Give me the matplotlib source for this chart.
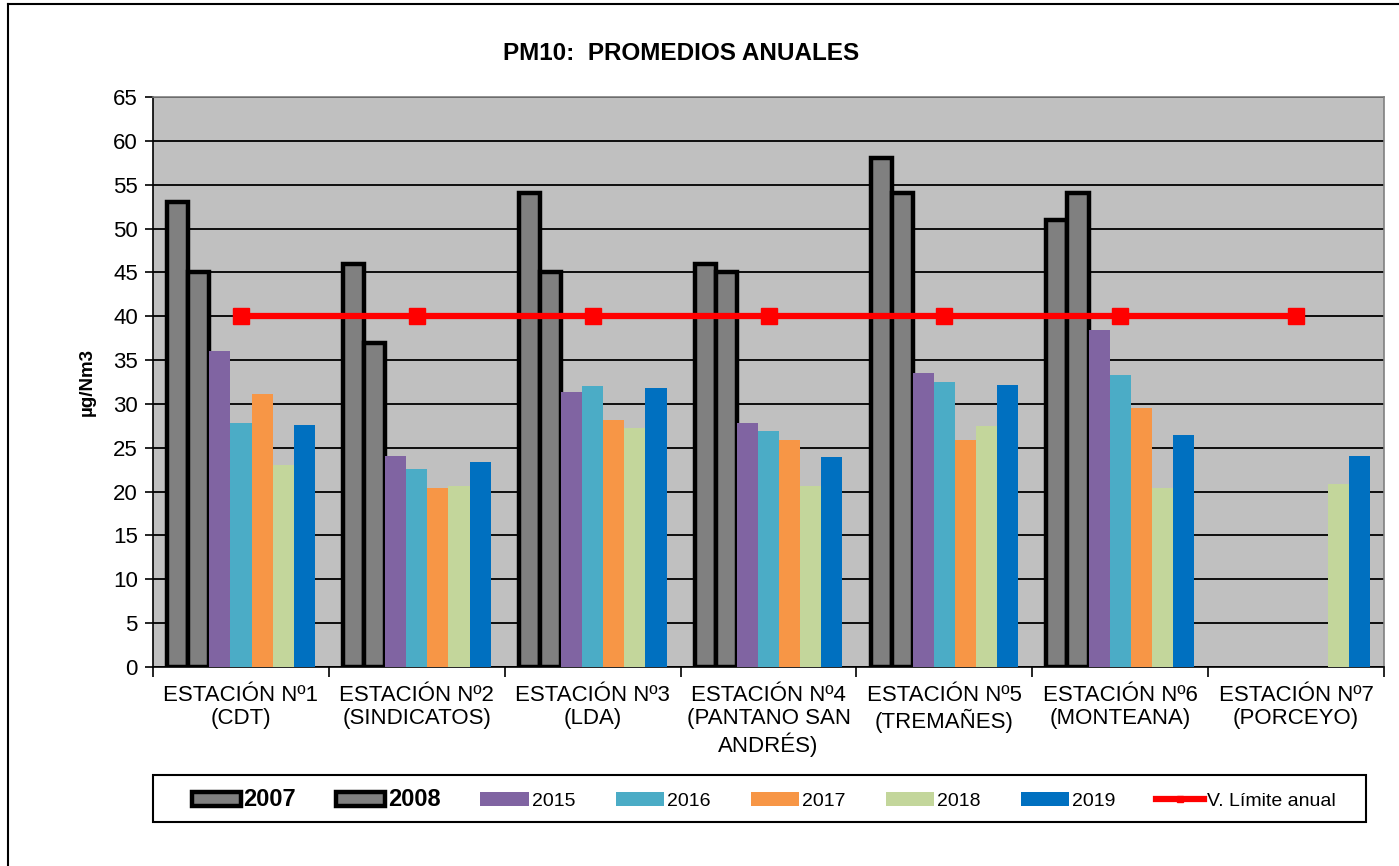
import numpy as np
import matplotlib
matplotlib.use("Agg")
import matplotlib.pyplot as plt
import matplotlib.patches as mpatches
from matplotlib.lines import Line2D

plt.rcParams['font.family'] = ['Liberation Sans', 'DejaVu Sans']

# --- DATOS ---
estaciones = ["ESTACIÓN Nº1\n(CDT)", "ESTACIÓN Nº2\n(SINDICATOS)", "ESTACIÓN Nº3\n(LDA)",
              "ESTACIÓN Nº4\n(PANTANO SAN\nANDRÉS)", "ESTACIÓN Nº5\n(TREMAÑES)",
              "ESTACIÓN Nº6\n(MONTEANA)", "ESTACIÓN Nº7\n(PORCEYO)"]
anios = ["2007", "2008", "2015", "2016", "2017", "2018", "2019"]
v2007 = [53, 46, 54, 46, 58, 51, np.nan]
v2008 = [45, 37, 45, 45, 54, 54, np.nan]
v2015 = [36.0, 24.1, 31.4, 27.8, 33.5, 38.4, np.nan]
v2016 = [27.8, 22.6, 32.0, 26.9, 32.5, 33.3, np.nan]
v2017 = [31.1, 20.4, 28.2, 25.9, 25.9, 29.5, np.nan]
v2018 = [23.0, 20.6, 27.3, 20.6, 27.5, 20.4, 20.9]
v2019 = [27.6, 23.4, 31.8, 23.9, 32.2, 26.5, 24.1]
limite = [40, 40, 40, 40, 40, 40, 40]

series = [v2007, v2008, v2015, v2016, v2017, v2018, v2019]
colores = ['#808080', '#808080', '#8064A2', '#4BACC6', '#F79646', '#C3D69B', '#0070C0']

fig = plt.figure(figsize=(13.99, 8.66), dpi=100)
ax = fig.add_axes([0.1094, 0.2298, 0.8799, 0.6582])

x = np.arange(len(estaciones))
ancho = 0.12
for i, (vals, col) in enumerate(zip(series, colores)):
    pos = x + (i - 3) * ancho
    if i < 2:
        ax.bar(pos, vals, width=ancho, color=col, edgecolor='black', linewidth=3.2, zorder=3)
    else:
        ax.bar(pos, vals, width=ancho, color=col, edgecolor='none', zorder=3)

ax.plot(x, limite, color='#FF0000', linewidth=4.5, marker='s', markersize=11, zorder=5)

ax.set_xlim(-0.5, len(estaciones) - 0.5)
ax.set_ylim(0, 65)
ax.set_yticks(np.arange(0, 66, 5))
ax.set_facecolor('#C0C0C0')
ax.grid(axis='y', color='black', linewidth=1.3, zorder=0)
ax.set_axisbelow(True)

ax.set_xticks(x)
ax.set_xticklabels(estaciones, fontsize=16, linespacing=1.15)
ax.set_xticks(np.arange(-0.5, len(estaciones)), minor=True)
ax.tick_params(axis='x', which='major', length=0, pad=13)
ax.tick_params(axis='x', which='minor', length=7, width=1.2, direction='out')
ax.tick_params(axis='y', labelsize=16, length=6, width=1.2, direction='out', pad=5)

for s in ['left', 'bottom']:
    ax.spines[s].set_color('black')
    ax.spines[s].set_linewidth(1.2)
for s in ['top', 'right']:
    ax.spines[s].set_color('#808080')
    ax.spines[s].set_linewidth(1.2)

ax.set_ylabel("µg/Nm3", fontsize=13.5, fontweight='bold', labelpad=12)
fig.text(0.487, 0.938, "PM10:  PROMEDIOS ANUALES", fontsize=17.5, fontweight='bold',
         ha='center', va='center')

# --- LEYENDA ---
handles = []
for i, (anio, col) in enumerate(zip(anios, colores)):
    if i < 2:
        handles.append(mpatches.Patch(facecolor=col, edgecolor='black', linewidth=3.2, label=anio))
    else:
        handles.append(mpatches.Patch(facecolor=col, edgecolor='none', label=anio))
handles.append(Line2D([0], [0], color='#FF0000', linewidth=4.5, marker='s', markersize=5,
                      label="V. Límite anual"))
leg = fig.legend(handles=handles, loc='center left', ncol=8, mode='expand',
                 bbox_to_anchor=(192 / 1399, 0.077, 1144 / 1399, 0.0),
                 fontsize=14, frameon=False, handlelength=2.5, handleheight=0.8,
                 handletextpad=0.15, borderaxespad=0, borderpad=0)
for i, t in enumerate(leg.get_texts()):
    if i < 2:
        t.set_fontweight('bold')
        t.set_fontsize(17)

# marco de la leyenda
fig.add_artist(mpatches.Rectangle((153 / 1399, 1 - 822 / 866), (1366 - 153) / 1399, 47 / 866,
                                  transform=fig.transFigure, facecolor='none',
                                  edgecolor='black', linewidth=1.5))

# borde exterior del gráfico
fig.add_artist(Line2D([8 / 1399, 8 / 1399], [0, 1 - 4 / 866], color='black', linewidth=1.5,
                      transform=fig.transFigure))
fig.add_artist(Line2D([8 / 1399, 1], [1 - 4 / 866, 1 - 4 / 866], color='black', linewidth=1.5,
                      transform=fig.transFigure))

fig.savefig("out.png", dpi=100)
